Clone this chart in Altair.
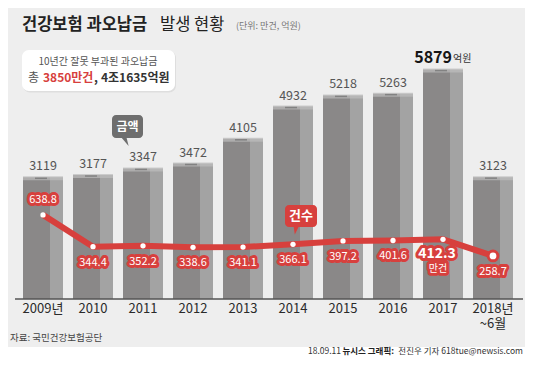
import altair as alt
import pandas as pd

# ---- data ----
years = ["2009", "2010", "2011", "2012", "2013", "2014", "2015", "2016", "2017", "2018"]
year_labels = ["2009년", "2010", "2011", "2012", "2013", "2014", "2015", "2016", "2017", "2018년"]
year_sublabels = ["", "", "", "", "", "", "", "", "", "~6월"]
amounts = [3119, 3177, 3347, 3472, 4105, 4932, 5218, 5263, 5879, 3123]      # 억원
counts = [638.8, 344.4, 352.2, 338.6, 341.1, 366.1, 397.2, 401.6, 412.3, 258.7]  # 만건

df = pd.DataFrame({
    "year": years,
    "label": year_labels,
    "sub": year_sublabels,
    "amount": amounts,
    "count": counts,
})
one = pd.DataFrame({"k": [0]})

FONT = "Noto Sans CJK KR"
RED = "#d7403d"
BG = "#eeeeee"

X = alt.X("year:N", sort=years, scale=alt.Scale(paddingInner=0, paddingOuter=0), axis=None)
YB = alt.Y("amount:Q", scale=alt.Scale(domain=[0, 7150]), axis=None)
YL = alt.Y("count:Q", scale=alt.Scale(domain=[-140, 2443]), axis=None)

base = alt.Chart(df)


def txt(s, x, y, size, color, weight="normal", align="left", baseline="middle"):
    return alt.Chart(one).mark_text(
        text=s, font=FONT, fontSize=size, color=color, fontWeight=weight,
        align=align, baseline=baseline,
    ).encode(x=alt.value(x), y=alt.value(y))


def rect(x1, x2, y1, y2, color, r=0):
    return alt.Chart(one).mark_rect(color=color, cornerRadius=r).encode(
        x=alt.value(x1), x2=alt.value(x2), y=alt.value(y1), y2=alt.value(y2))


# bars (3D look: front + side + cap)
front = base.mark_bar(size=27, xOffset=-6.5, color="#8a8888").encode(x=X, y=YB)
side = base.mark_bar(size=13, xOffset=13.5, color="#a3a3a3").encode(x=X, y=YB)
cap = base.mark_tick(size=40, thickness=4, color="#bdbdbd", yOffset=1).encode(x=X, y=YB)
cap2 = base.mark_tick(size=12, thickness=1.5, color="#6f6f6f", xOffset=-2, yOffset=1).encode(x=X, y=YB)

amt_lbl = base.transform_filter("datum.year != '2017'").mark_text(
    font=FONT, fontSize=12.5, color="#555555", dy=-11, baseline="middle"
).encode(x=X, y=YB, text=alt.Text("amount:Q", format="d"))
amt_max = base.transform_filter("datum.year == '2017'").mark_text(
    font=FONT, fontSize=16, fontWeight="bold", color="#151515", dy=-12, dx=9,
    align="right", baseline="middle"
).encode(x=X, y=YB, text=alt.Text("amount:Q", format="d"))
amt_unit = base.transform_filter("datum.year == '2017'").mark_text(
    text="억원", font=FONT, fontSize=10, color="#333333", dy=-11, dx=10,
    align="left", baseline="middle"
).encode(x=X, y=YB)

# line
line = base.mark_line(color=RED, strokeWidth=6).encode(x=X, y=YL)
dots = base.transform_filter("datum.year != '2018'").mark_circle(
    size=28, color="white", opacity=1).encode(x=X, y=YL)
last = base.transform_filter("datum.year == '2018'").mark_point(
    filled=True, fill="white", stroke=RED, strokeWidth=3, size=95, opacity=1
).encode(x=X, y=YL)


def halo_label(flt, size, weight, dx, dy, text=None):
    layers = []
    for stroke in (True, False):
        props = dict(font=FONT, fontSize=size, fontWeight=weight, dx=dx, dy=dy,
                     baseline="middle", align="center")
        if stroke:
            props.update(color=RED, stroke=RED, strokeWidth=6, strokeJoin="round")
        else:
            props.update(color="white")
        if text is not None:
            props["text"] = text
        c = base.transform_filter(flt).mark_text(**props)
        enc = dict(x=X, y=YL)
        if text is None:
            enc["text"] = alt.Text("count:Q", format=".1f")
        layers.append(c.encode(**enc))
    return layers


lbl_gen = halo_label("datum.year != '2009' && datum.year != '2017'", 11, "normal", 0, 16)
lbl_first = halo_label("datum.year == '2009'", 11, "normal", 0, -15)
lbl_max = halo_label("datum.year == '2017'", 14, "bold", -6, 15)
lbl_unit = halo_label("datum.year == '2017'", 10, "normal", -5, 30, text="만건")

# callouts
c1_box = rect(94, 125, 95, 118, "#6e6e6e", 4)
c1_tail = alt.Chart(one).mark_point(
    shape="M -0.8 -1 L 0.4 -1 L 0.9 1 Z", filled=True, color="#6e6e6e", size=64, opacity=1
).encode(x=alt.value(107), y=alt.value(122))
c1_txt = txt("금액", 109.5, 106.5, 12, "white", "bold", "center")
c2_box = rect(267, 299, 185, 207, RED, 4)
c2_tail = alt.Chart(one).mark_point(
    shape="M -0.6 -1 L 0.7 -1 L -0.3 1 Z", filled=True, color=RED, size=64, opacity=1
).encode(x=alt.value(278), y=alt.value(210.5))
c2_txt = txt("건수", 283, 196, 13, "white", "bold", "center")

# axis
axis_rule = alt.Chart(one).mark_rule(color="#555555", strokeWidth=1.5).encode(
    x=alt.value(-3), x2=alt.value(505), y=alt.value(279))
yl = base.mark_text(font=FONT, fontSize=13, color="#2a2a2a", baseline="middle").encode(
    x=X, y=alt.value(289), text="label:N")
ysub = base.mark_text(font=FONT, fontSize=13, color="#2a2a2a", baseline="middle").encode(
    x=X, y=alt.value(304), text="sub:N")

# title & info box
t1 = txt("건강보험 과오납금", 4, 5, 16.5, "#222222", "bold")
t2 = txt("발생 현황", 142, 5, 16.5, "#222222")
t3 = txt("(단위: 만건, 억원)", 218, 6, 9, "#777777")
box_shadow = rect(5, 158, 31, 72.5, "#dedede", 7)
box = rect(4, 157, 30, 71, "white", 7)
b1 = txt("10년간 잘못 부과된 과오납금", 80, 42, 10, "#555555", align="center")
b2a = txt("총", 10, 58, 12, "#555555")
b2b = txt("3850만건", 25, 58, 12, RED, "bold")
b2c = txt(",", 76, 58, 12, "#333333", "bold")
b2d = txt("4조1635억원", 83, 58, 12, "#333333", "bold")

# source & footer
src = txt("자료: 국민건강보험공단", -8, 318, 9.5, "#444444")
strip = rect(-10, 507, 327, 337, "white")
f3 = txt("전진우 기자 618tue@newsis.com", 505, 331, 8.5, "#333333", align="right")
f2 = txt("뉴시스 그래픽:", 376, 331, 8.5, "#222222", "bold", align="right")
f1 = txt("18.09.11", 323, 331, 8.5, "#333333", align="right")

chart = alt.layer(
    front, side, cap, cap2, amt_lbl, amt_max, amt_unit,
    line, dots, last,
    *lbl_gen, *lbl_first, *lbl_max, *lbl_unit,
    c1_tail, c1_box, c1_txt, c2_tail, c2_box, c2_txt,
    axis_rule, yl, ysub,
    t1, t2, t3, box_shadow, box, b1, b2a, b2b, b2c, b2d,
    src, strip, f1, f2, f3,
).resolve_scale(y="independent").properties(
    width=500, height=279,
    autosize=alt.AutoSizeParams(type="none"),
    padding={"left": 10, "top": 12, "right": 7, "bottom": 58},
    background=BG,
).configure_view(stroke=None)

chart.save("out.html", embed_options={"renderer": "svg", "actions": False})
